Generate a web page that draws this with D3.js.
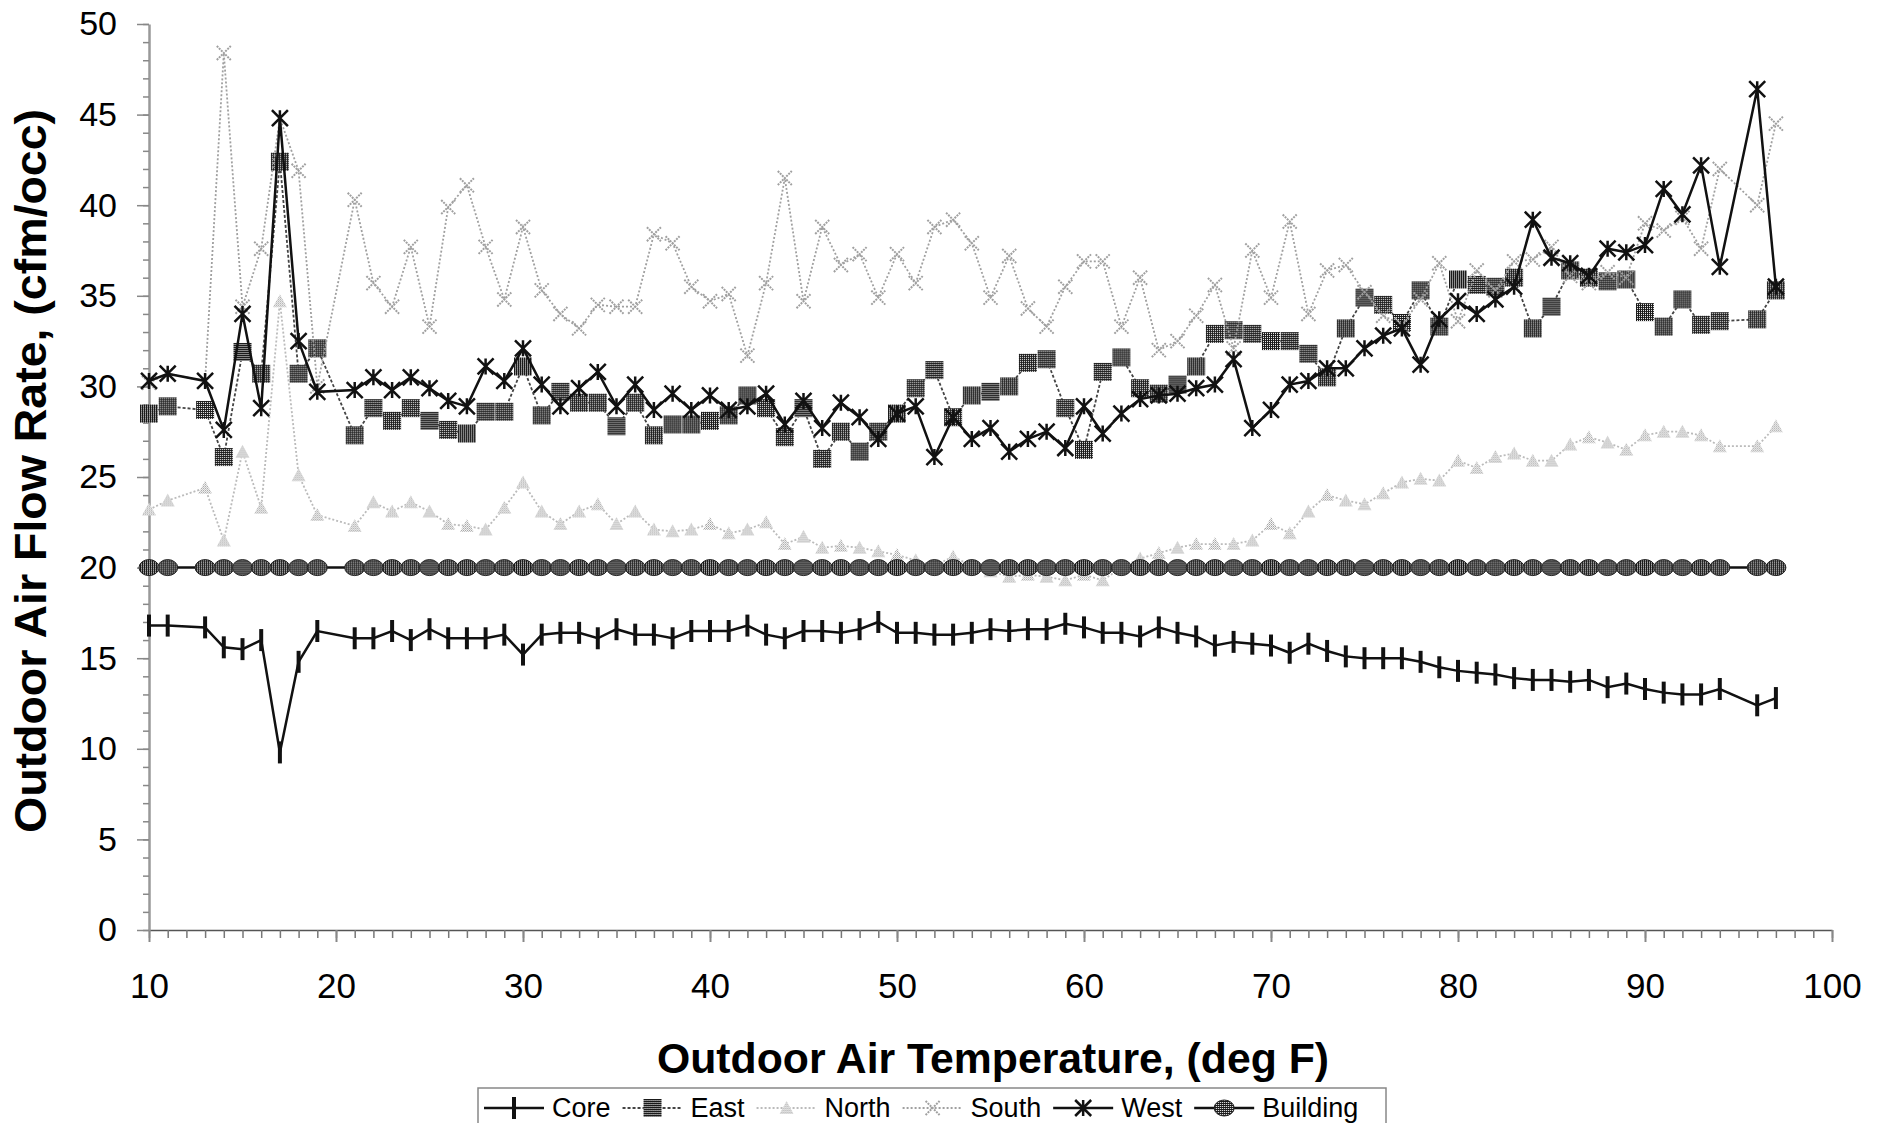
<!DOCTYPE html>
<html>
<head>
<meta charset="utf-8">
<script src="https://cdn.jsdelivr.net/npm/d3@7"></script>
<style>
  body { margin: 0; background: #fff; }
  text { font-family: "Liberation Sans", Arial, sans-serif; }
</style>
</head>
<body>
<svg width="1884" height="1123"></svg>
<script>
// Outdoor air temperature bins (deg F) - 12, 20 and 95 have no data
const temps = [10, 11, 13, 14, 15, 16, 17, 18, 19,
  21, 22, 23, 24, 25, 26, 27, 28, 29, 30,
  31, 32, 33, 34, 35, 36, 37, 38, 39, 40,
  41, 42, 43, 44, 45, 46, 47, 48, 49, 50,
  51, 52, 53, 54, 55, 56, 57, 58, 59, 60,
  61, 62, 63, 64, 65, 66, 67, 68, 69, 70,
  71, 72, 73, 74, 75, 76, 77, 78, 79, 80,
  81, 82, 83, 84, 85, 86, 87, 88, 89, 90,
  91, 92, 93, 94, 96, 97];

// outdoor air flow rate, cfm/occ
const core = [16.8, 16.8, 16.7, 15.6, 15.5, 16.0, 9.8, 14.8, 16.5,
  16.1, 16.1, 16.5, 16.0, 16.6, 16.1, 16.1, 16.1, 16.3, 15.2,
  16.3, 16.4, 16.4, 16.1, 16.6, 16.3, 16.3, 16.1, 16.5, 16.5,
  16.5, 16.8, 16.3, 16.1, 16.5, 16.5, 16.4, 16.6, 17.0, 16.4,
  16.4, 16.3, 16.3, 16.4, 16.6, 16.5, 16.6, 16.6, 16.9, 16.7,
  16.4, 16.4, 16.2, 16.7, 16.4, 16.2, 15.7, 15.9, 15.8, 15.7,
  15.3, 15.8, 15.4, 15.1, 15.0, 15.0, 15.0, 14.8, 14.5, 14.3,
  14.2, 14.1, 13.9, 13.8, 13.8, 13.7, 13.8, 13.4, 13.6, 13.3,
  13.1, 13.0, 13.0, 13.3, 12.4, 12.8];

const east = [28.5, 28.9, 28.7, 26.1, 31.9, 30.7, 42.4, 30.7, 32.1,
  27.3, 28.8, 28.1, 28.8, 28.1, 27.6, 27.4, 28.6, 28.6, 31.1,
  28.4, 29.7, 29.1, 29.1, 27.8, 29.1, 27.3, 27.9, 27.9, 28.1,
  28.4, 29.5, 28.8, 27.2, 28.8, 26.0, 27.5, 26.4, 27.5, 28.5,
  29.9, 30.9, 28.3, 29.5, 29.7, 30.0, 31.3, 31.5, 28.8, 26.5,
  30.8, 31.6, 29.9, 29.6, 30.1, 31.1, 32.9, 33.1, 32.9, 32.5,
  32.5, 31.8, 30.5, 33.2, 34.9, 34.5, 33.5, 35.3, 33.3, 35.9,
  35.6, 35.5, 36.0, 33.2, 34.4, 36.4, 36.0, 35.8, 35.9, 34.1,
  33.3, 34.8, 33.4, 33.6, 33.7, 35.3];

const north = [23.2, 23.7, 24.4, 21.5, 26.4, 23.3, 34.7, 25.1, 22.9,
  22.3, 23.6, 23.1, 23.6, 23.1, 22.4, 22.3, 22.1, 23.3, 24.7,
  23.1, 22.4, 23.1, 23.5, 22.4, 23.1, 22.1, 22.0, 22.1, 22.4,
  21.9, 22.1, 22.5, 21.3, 21.7, 21.1, 21.2, 21.1, 20.9, 20.7,
  20.4, 20.1, 20.6, 20.1, 19.8, 19.5, 19.6, 19.5, 19.3, 19.6,
  19.3, 20.0, 20.5, 20.8, 21.1, 21.3, 21.3, 21.3, 21.5, 22.4,
  21.9, 23.1, 24.0, 23.7, 23.5, 24.1, 24.7, 24.9, 24.8, 25.9,
  25.5, 26.1, 26.3, 25.9, 25.9, 26.8, 27.2, 26.9, 26.5, 27.3,
  27.5, 27.5, 27.3, 26.7, 26.7, 27.8];

const south = [30.2, 30.7, 30.3, 48.4, 34.4, 37.6, 44.8, 41.9, 30.0,
  40.3, 35.7, 34.4, 37.7, 33.3, 39.9, 41.1, 37.7, 34.8, 38.8,
  35.3, 34.0, 33.2, 34.5, 34.4, 34.4, 38.4, 37.9, 35.5, 34.7,
  35.1, 31.7, 35.7, 41.5, 34.7, 38.8, 36.7, 37.3, 34.9, 37.3,
  35.7, 38.8, 39.2, 37.9, 34.9, 37.2, 34.3, 33.3, 35.5, 36.9,
  36.9, 33.3, 36.0, 32.0, 32.5, 33.9, 35.6, 32.1, 37.5, 34.9,
  39.1, 34.0, 36.4, 36.7, 35.2, 33.9, 33.4, 34.8, 36.8, 33.6,
  36.4, 35.3, 36.9, 37.0, 37.7, 36.1, 35.7, 36.3, 36.0, 39.0,
  38.6, 39.3, 37.6, 42.0, 40.0, 44.5];

const west = [30.3, 30.7, 30.3, 27.6, 34.0, 28.8, 44.8, 32.5, 29.7,
  29.8, 30.5, 29.8, 30.5, 29.9, 29.2, 28.9, 31.1, 30.3, 32.1,
  30.1, 28.9, 29.9, 30.8, 28.9, 30.1, 28.7, 29.6, 28.7, 29.5,
  28.7, 28.9, 29.6, 27.9, 29.2, 27.7, 29.1, 28.3, 27.1, 28.5,
  28.9, 26.1, 28.3, 27.1, 27.7, 26.4, 27.1, 27.5, 26.6, 28.9,
  27.4, 28.5, 29.3, 29.5, 29.6, 29.9, 30.1, 31.5, 27.7, 28.7,
  30.1, 30.3, 31.0, 31.0, 32.1, 32.8, 33.2, 31.2, 33.7, 34.7,
  34.0, 34.8, 35.5, 39.2, 37.1, 36.8, 36.1, 37.6, 37.4, 37.8,
  40.9, 39.5, 42.2, 36.6, 46.4, 35.5];

const building = temps.map(() => 20);

const xTicks = d3.range(10, 101, 10);
const yTicks = d3.range(0, 51, 5);

const svg = d3.select("svg");

// dithered fills like the old printout
const defs = svg.append("defs");
let pat = defs.append("pattern").attr("id", "dark")
    .attr("width", 2).attr("height", 2).attr("patternUnits", "userSpaceOnUse");
pat.append("rect").attr("width", 2).attr("height", 2).attr("fill", "#1a1a1a");
pat.append("rect").attr("width", 1).attr("height", 1).attr("fill", "#fff");
let pat2 = defs.append("pattern").attr("id", "light")
    .attr("width", 2).attr("height", 2).attr("patternUnits", "userSpaceOnUse");
pat2.append("rect").attr("width", 2).attr("height", 2).attr("fill", "#fff");
pat2.append("rect").attr("width", 1).attr("height", 1).attr("fill", "#999");
pat2.append("rect").attr("x", 1).attr("y", 1).attr("width", 1).attr("height", 1).attr("fill", "#bbb");

// scales
const x = d3.scaleLinear().domain([10, 100]).range([149, 1832]);
const y = d3.scaleLinear().domain([0, 50]).range([930, 24]);

// x axis: minor ticks every degree, labels every 10
svg.append("g")
    .attr("transform", "translate(0,930)")
    .call(d3.axisBottom(x).tickValues(d3.range(10, 101, 1)).tickSize(8).tickSizeOuter(0).tickFormat(""))
    .call(g => g.select(".domain").attr("stroke", "#555").attr("stroke-width", 1.5))
    .call(g => g.selectAll(".tick line").attr("stroke", "#777").attr("stroke-width", 1.5));
svg.append("g")
    .attr("transform", "translate(0,930)")
    .call(d3.axisBottom(x).tickValues(xTicks).tickSize(12).tickSizeOuter(0).tickPadding(31))
    .call(g => g.select(".domain").remove())
    .call(g => g.selectAll(".tick line").attr("stroke", "#888").attr("stroke-width", 2))
    .call(g => g.selectAll(".tick text").attr("font-size", 35).attr("fill", "#000")
        .attr("font-family", "'Liberation Sans', Arial, sans-serif"));

// y axis
svg.append("g")
    .attr("transform", "translate(149,0)")
    .call(d3.axisLeft(y).tickValues(d3.range(0, 51, 1)).tickSize(6).tickSizeOuter(0).tickFormat(""))
    .call(g => g.select(".domain").attr("stroke", "#999").attr("stroke-width", 2.5))
    .call(g => g.selectAll(".tick line").attr("stroke", "#888").attr("stroke-width", 1.5));
svg.append("g")
    .attr("transform", "translate(149,0)")
    .call(d3.axisLeft(y).tickValues(yTicks).tickSize(12).tickSizeOuter(0).tickPadding(20))
    .call(g => g.select(".domain").remove())
    .call(g => g.selectAll(".tick line").attr("stroke", "#888").attr("stroke-width", 1.5))
    .call(g => g.selectAll(".tick text").attr("font-size", 34).attr("fill", "#000")
        .attr("font-family", "'Liberation Sans', Arial, sans-serif"));

// axis titles
svg.append("text")
    .attr("x", 993).attr("y", 1073)
    .attr("text-anchor", "middle")
    .attr("font-size", 43).attr("font-weight", "bold")
    .attr("textLength", 672).attr("lengthAdjust", "spacingAndGlyphs")
    .text("Outdoor Air Temperature, (deg F)");

svg.append("text")
    .attr("transform", "translate(46,471) rotate(-90)")
    .attr("text-anchor", "middle")
    .attr("font-size", 45).attr("font-weight", "bold")
    .attr("textLength", 724).attr("lengthAdjust", "spacingAndGlyphs")
    .text("Outdoor Air Flow Rate, (cfm/occ)");

// markers
function drawMarker(g, type) {
    if (type == "bar") {
        g.append("path").attr("d", "M0,-11V11").attr("stroke", "#111").attr("stroke-width", 4);
    } else if (type == "square") {
        g.append("rect").attr("x", -9).attr("y", -9).attr("width", 18).attr("height", 18)
            .attr("fill", "url(#dark)");
    } else if (type == "tri") {
        g.append("path").attr("d", "M0,-7L7,6L-7,6Z").attr("fill", "url(#light)");
    } else if (type == "x") {
        g.append("path").attr("d", "M-7,-7L7,7M-7,7L7,-7").attr("stroke", "#a0a0a0")
            .attr("stroke-width", 2).attr("stroke-dasharray", "2,1");
    } else if (type == "star") {
        g.append("path").attr("d", "M-8,-8L8,8M-8,8L8,-8M0,-8V8").attr("stroke", "#111")
            .attr("stroke-width", 2.5);
    } else if (type == "circle") {
        g.append("ellipse").attr("rx", 10).attr("ry", 8).attr("fill", "url(#dark)")
            .attr("stroke", "#222").attr("stroke-width", 1);
    }
}

const series = [
    {name: "Core", values: core, color: "#111", width: 2.5, dash: null, marker: "bar"},
    {name: "East", values: east, color: "#444", width: 1.8, dash: "3,2", marker: "square"},
    {name: "North", values: north, color: "#bbb", width: 1.8, dash: "2,2", marker: "tri"},
    {name: "South", values: south, color: "#a0a0a0", width: 1.8, dash: "2,2", marker: "x"},
    {name: "West", values: west, color: "#111", width: 2.5, dash: null, marker: "star"},
    {name: "Building", values: building, color: "#111", width: 2.5, dash: null, marker: "circle"}
];

const line = d3.line()
    .x(d => x(d[0]))
    .y(d => y(d[1]));

series.forEach(function(s) {
    let pts = temps.map((t, i) => [t, s.values[i]]);
    svg.append("path")
        .datum(pts)
        .attr("fill", "none")
        .attr("stroke", s.color)
        .attr("stroke-width", s.width)
        .attr("stroke-dasharray", s.dash)
        .attr("d", line);
    svg.append("g").selectAll("g")
        .data(pts)
        .join("g")
        .attr("transform", d => "translate(" + x(d[0]) + "," + y(d[1]) + ")")
        .each(function() { drawMarker(d3.select(this), s.marker); });
});

// legend: items flow left to right
const legend = svg.append("g");
legend.append("rect")
    .attr("x", 478).attr("y", 1088).attr("width", 908).attr("height", 50)
    .attr("fill", "#fff").attr("stroke", "#888").attr("stroke-width", 1.5);

let lx = 484;
series.forEach(function(s, i) {
    let g = legend.append("g").attr("transform", "translate(" + lx + ",1108)");
    g.append("line").attr("x1", 0).attr("x2", 60)
        .attr("stroke", s.color).attr("stroke-width", s.width).attr("stroke-dasharray", s.dash);
    drawMarker(g.append("g").attr("transform", "translate(30,0)"), s.marker);
    let t = g.append("text").attr("x", 68).attr("y", 9).attr("font-size", 27).text(s.name);
    lx += 68 + t.node().getComputedTextLength() + 12;
});
</script>
</body>
</html>
